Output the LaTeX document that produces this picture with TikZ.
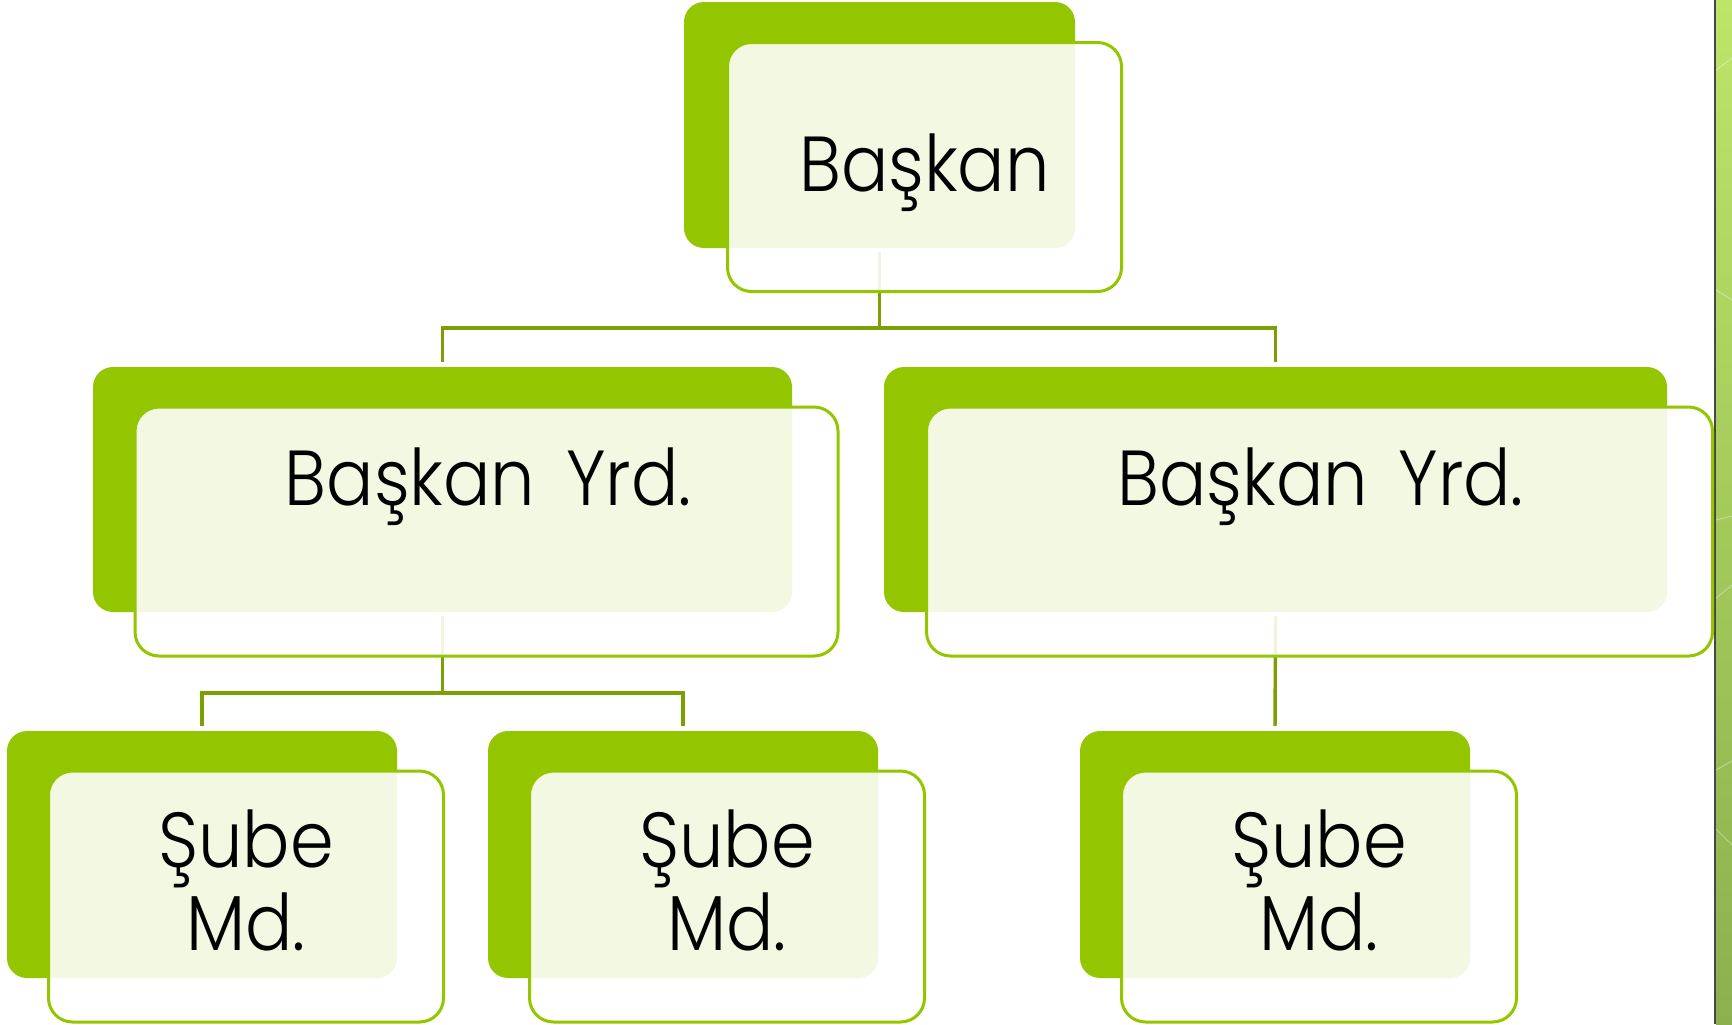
\documentclass[tikz,border=0pt]{standalone}
\usepackage{fontspec}
\setmainfont{Poppins}[UprightFont={* Light}, FakeStretch=0.9, WordSpace=1.6]
\usepackage{tikz}
\definecolor{boxgreen}{RGB}{148,198,0}
\definecolor{linegreen}{RGB}{122,160,4}
\definecolor{striptop}{RGB}{190,228,105}
\definecolor{stripbot}{RGB}{140,176,78}
\definecolor{stripline}{RGB}{70,70,70}
\tikzset{>=latex}

\begin{document}
\begin{tikzpicture}[x=0.5pt, y=-0.5pt]
\tikzset{back/.style={fill=boxgreen, rounded corners=10pt, inner sep=0pt, outer sep=0pt},
  front/.style={draw=boxgreen, line width=1.5pt, fill=white, fill opacity=0.89, rounded corners=12pt, inner sep=0pt},
  conn/.style={draw=linegreen, line width=1.7pt, shorten <=2pt, shorten >=2.5pt},
  boxtext/.style={font=\fontsize{39}{41.5}\selectfont, align=center, anchor=base, inner sep=0pt}}
    \useasboundingbox[fill=white] (0,0) rectangle (1732,1024);

    % right edge strip
    \shade[top color=striptop, bottom color=stripbot] (1716,0) rectangle (1732,1024);
    \draw[white, opacity=0.35, line width=0.5pt] (1716,70) -- (1732,58);
    \draw[white, opacity=0.35, line width=0.5pt] (1716,290) -- (1732,300);
    \draw[white, opacity=0.35, line width=0.5pt] (1716,520) -- (1732,516);
    \draw[white, opacity=0.35, line width=0.5pt] (1716,598) -- (1732,585);
    \draw[white, opacity=0.35, line width=0.5pt] (1716,770) -- (1732,761);
    \draw[white, opacity=0.35, line width=0.5pt] (1716,829) -- (1732,845);
    \draw[stripline, line width=1pt] (1715,0) -- (1715,1024);

    % back boxes
    \node[back, minimum width=195.5pt, minimum height=123pt] (baskanB) at (879.5,125) {};
    \node[back, minimum width=349.5pt, minimum height=122.5pt] (yrdLB) at (442.5,489.5) {};
    \node[back, minimum width=391.5pt, minimum height=122.5pt] (yrdRB) at (1275.5,489.5) {};
    \node[back, minimum width=195pt, minimum height=123.5pt] (subeAB) at (202,854.5) {};
    \node[back, minimum width=195pt, minimum height=123.5pt] (subeBB) at (683,854.5) {};
    \node[back, minimum width=195pt, minimum height=123.5pt] (subeCB) at (1275,854.5) {};

    % connectors
    \draw[conn] (baskanB.south) -- ++(0,80) -| (yrdLB.north);
    \draw[conn] (baskanB.south) -- ++(0,80) -| (yrdRB.north);
    \draw[conn] (yrdLB.south) -- ++(0,81) -| (subeAB.north);
    \draw[conn] (yrdLB.south) -- ++(0,81) -| (subeBB.north);
    \draw[conn] (yrdRB.south) -- (subeCB.north);
% % % % % % % % % % % % % % % % % % %
    % front boxes
    \node[front, minimum width=197pt, minimum height=124.5pt] (baskanF) at ([shift={(45,42)}]baskanB.center) {};
    \node[front, minimum width=351.5pt, minimum height=124.5pt] (yrdLF) at ([shift={(44,42)}]yrdLB.center) {};
    \node[front, minimum width=393pt, minimum height=124.5pt] (yrdRF) at ([shift={(44,42)}]yrdRB.center) {};
    \node[front, minimum width=197.5pt, minimum height=125.5pt] (subeAF) at ([shift={(44,42)}]subeAB.center) {};
    \node[front, minimum width=197.5pt, minimum height=125.5pt] (subeBF) at ([shift={(44,42)}]subeBB.center) {};
    \node[front, minimum width=197.5pt, minimum height=125.5pt] (subeCF) at ([shift={(44,42)}]subeCB.center) {};

    % texts
    \node[boxtext] (baskanT) at ([shift={(0,24.5)}]baskanF.center) {Başkan};
    \node[boxtext] (yrdLT) at ([shift={(1.5,-26)}]yrdLF.center) {Başkan Yrd.};
    \node[boxtext] (yrdRT) at ([shift={(1,-26)}]yrdRF.center) {Başkan Yrd.};
    \node[boxtext] (subeAT) at ([shift={(0,53.5)}]subeAF.center) {Şube\\Md.};
    \node[boxtext] (subeBT) at ([shift={(0,53.5)}]subeBF.center) {Şube\\Md.};
    \node[boxtext] (subeCT) at ([shift={(0,53.5)}]subeCF.center) {Şube\\Md.};
\end{tikzpicture}
\end{document}
